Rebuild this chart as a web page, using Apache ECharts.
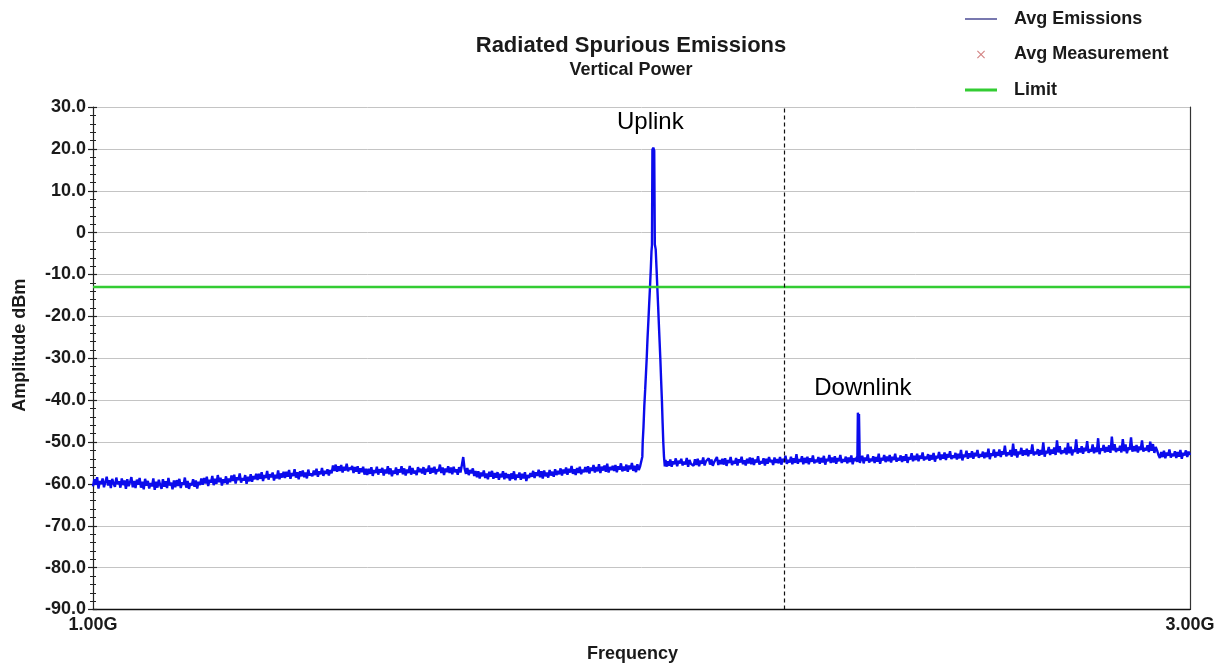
<!DOCTYPE html>
<html>
<head>
<meta charset="utf-8">
<title>Radiated Spurious Emissions</title>
<script src="https://cdn.jsdelivr.net/npm/echarts@6/dist/echarts.min.js"></script>
<style>
  html, body { margin: 0; padding: 0; background: #ffffff; }
  #chart { width: 1219px; height: 667px; }
</style>
</head>
<body>
<div id="chart"></div>
<script>
// Sweep settings (GHz) for the two noise-floor segments of the trace
const sweepStartA = 1.000;
const sweepStartB = 2.050;
const sweepStep = 0.0025;

// Average emission level (dBm), 1.0000 – 1.9975 GHz
const noiseA = [
  -60.6,-58.9,-60.2,-58.4,-61.1,-59.3,-60.0,-58.7,-60.8,-59.6,-58.3,-60.4,-59.1,-61.0,-58.8,-59.9,-60.7,-58.5,-60.1,-59.4,
  -60.9,-58.7,-60.3,-59.2,-61.2,-58.9,-60.5,-59.6,-58.4,-60.8,-59.3,-61.0,-59.0,-60.2,-58.6,-60.9,-59.5,-61.3,-58.8,-60.4,
  -59.3,-61.1,-59.8,-60.6,-58.7,-61.4,-59.5,-60.9,-59.0,-60.3,-61.2,-58.9,-60.7,-59.4,-61.0,-58.6,-60.4,-59.7,-61.3,-59.2,
  -60.8,-59.1,-60.5,-58.8,-61.0,-59.6,-60.2,-58.5,-60.9,-59.3,-61.2,-59.8,-60.4,-58.9,-60.7,-59.2,-61.1,-59.5,-60.3,-58.7,
  -60.2,-58.6,-59.9,-58.3,-60.5,-59.0,-59.7,-58.1,-60.3,-58.8,-60.0,-57.9,-59.6,-58.5,-60.4,-58.9,-59.8,-58.2,-60.1,-58.7,
  -59.6,-58.0,-59.3,-57.8,-59.9,-58.4,-59.1,-57.5,-59.7,-58.6,-59.2,-57.9,-60.0,-58.3,-59.4,-57.7,-59.5,-58.1,-58.9,-57.6,
  -59.1,-57.6,-58.8,-57.2,-59.3,-57.9,-58.6,-56.9,-59.0,-57.7,-58.4,-57.3,-59.2,-57.8,-58.7,-56.8,-58.9,-57.5,-58.5,-57.1,
  -58.6,-57.1,-58.3,-56.7,-58.8,-57.4,-58.1,-56.5,-58.5,-57.2,-58.9,-57.0,-58.2,-56.8,-58.4,-57.3,-58.7,-56.6,-58.0,-57.5,
  -58.2,-56.8,-57.9,-56.4,-58.3,-57.0,-57.7,-56.2,-58.1,-56.9,-57.6,-56.5,-58.0,-56.7,-57.5,-55.6,-56.9,-55.4,-57.1,-55.8,
  -56.9,-55.5,-57.3,-55.9,-56.8,-55.2,-57.0,-56.1,-56.6,-55.7,-57.4,-56.0,-57.1,-55.8,-57.6,-56.3,-57.2,-55.9,-57.8,-56.4,
  -57.9,-56.4,-57.6,-56.0,-58.1,-56.7,-57.4,-55.9,-57.8,-56.5,-57.3,-56.2,-58.0,-56.6,-57.5,-55.8,-57.7,-56.3,-58.2,-56.8,
  -57.6,-56.1,-57.9,-56.5,-57.3,-55.8,-57.7,-56.3,-58.0,-56.6,-57.4,-55.7,-57.8,-56.2,-57.5,-56.8,-57.9,-56.0,-57.2,-56.4,
  -57.5,-56.0,-57.8,-56.4,-57.1,-55.6,-57.6,-56.2,-57.3,-55.9,-57.7,-56.5,-57.0,-55.4,-57.4,-56.1,-57.9,-56.3,-57.2,-55.8,
  -57.4,-56.1,-57.7,-55.9,-57.2,-56.5,-57.8,-56.0,-57.3,-55.5,-53.6,-56.4,-57.6,-56.2,-57.9,-56.7,-57.5,-56.3,-58.1,-56.9,
  -58.4,-57.0,-58.7,-57.3,-58.2,-56.8,-58.6,-57.5,-58.9,-57.1,-58.3,-56.9,-58.8,-57.4,-58.5,-57.2,-59.0,-57.6,-58.4,-57.0,
  -58.9,-57.4,-58.6,-57.7,-59.2,-57.5,-58.8,-57.0,-59.1,-57.8,-58.5,-57.3,-59.0,-57.6,-58.7,-57.2,-59.3,-57.9,-58.6,-57.4,
  -58.3,-56.9,-58.6,-57.2,-58.1,-56.6,-58.4,-57.0,-58.7,-56.8,-58.2,-57.3,-58.5,-56.7,-58.0,-57.1,-58.3,-56.5,-57.9,-56.9,
  -57.7,-56.3,-58.0,-56.6,-57.5,-56.1,-57.8,-56.4,-57.3,-55.7,-57.6,-56.5,-57.9,-56.2,-57.4,-55.9,-57.7,-56.6,-57.2,-56.0,
  -57.2,-55.8,-57.5,-56.1,-56.9,-55.5,-57.3,-56.0,-57.0,-55.3,-57.4,-55.9,-56.8,-55.6,-57.1,-55.2,-57.3,-56.0,-56.7,-55.7,
  -56.9,-55.5,-57.2,-55.8,-56.6,-55.1,-57.0,-55.9,-56.8,-55.4,-57.1,-55.6,-56.5,-55.0,-56.9,-55.7,-57.2,-55.3,-56.7,-55.8
];

// Average emission level (dBm), 2.0500 – 3.0000 GHz
const noiseB = [
  -55.7,-54.2,-55.9,-54.6,-55.3,-53.9,-55.8,-54.5,-55.1,-54.0,-55.6,-54.7,-55.4,-53.8,-55.9,-54.3,-55.2,-54.8,-55.7,-54.1,
  -55.5,-54.0,-55.8,-54.4,-55.2,-53.7,-55.6,-54.6,-55.0,-53.9,-55.4,-54.2,-55.7,-54.8,-55.1,-53.6,-55.5,-54.3,-55.3,-54.0,
  -55.4,-53.9,-55.7,-54.3,-55.0,-53.6,-55.5,-54.5,-55.2,-53.8,-55.6,-54.1,-54.9,-53.5,-55.3,-54.4,-55.6,-54.0,-55.1,-53.7,
  -55.3,-53.8,-55.5,-54.2,-54.9,-53.4,-55.4,-54.6,-55.1,-53.9,-55.6,-54.0,-55.2,-53.6,-54.8,-54.3,-55.5,-53.7,-55.0,-54.1,
  -55.1,-53.6,-55.4,-54.0,-54.8,-53.3,-55.2,-54.3,-54.9,-53.5,-55.3,-53.9,-55.0,-52.9,-55.2,-54.1,-54.7,-53.4,-55.3,-53.8,
  -55.0,-53.5,-55.3,-53.9,-54.7,-53.2,-55.1,-54.2,-54.8,-53.6,-55.2,-53.8,-54.9,-53.3,-55.4,-54.0,-54.6,-53.1,-55.0,-53.7,
  -54.9,-53.4,-55.2,-53.8,-54.6,-53.1,-55.0,-54.1,-54.7,-53.5,-55.1,-53.7,-54.8,-53.2,-55.3,-53.9,-54.5,-53.6,-54.9,-53.8,
  -54.8,-53.3,-55.1,-53.7,-54.5,-53.0,-54.9,-54.0,-54.6,-53.4,-55.0,-53.6,-54.7,-52.8,-55.2,-53.8,-54.4,-53.1,-54.8,-53.5,
  -54.6,-53.1,-54.9,-53.5,-54.3,-52.8,-54.7,-53.8,-54.4,-53.2,-54.8,-53.4,-54.5,-52.9,-55.0,-53.6,-54.2,-52.7,-54.6,-53.3,
  -54.3,-52.8,-54.6,-53.2,-54.0,-52.5,-54.4,-53.5,-54.1,-52.9,-54.5,-53.1,-54.2,-52.6,-54.7,-53.3,-53.9,-52.4,-54.3,-53.0,
  -54.0,-52.5,-54.3,-52.9,-53.7,-52.2,-54.1,-53.2,-53.8,-52.6,-54.2,-52.8,-53.9,-51.9,-54.4,-53.0,-53.6,-52.1,-54.0,-52.7,
  -53.7,-52.2,-54.0,-52.6,-53.4,-51.9,-53.8,-52.9,-53.5,-52.3,-53.9,-52.5,-53.6,-51.6,-54.1,-52.7,-53.3,-51.8,-53.7,-52.4,
  -53.3,-51.8,-53.6,-52.2,-53.0,-50.9,-53.4,-52.5,-53.1,-51.9,-53.5,-50.4,-53.2,-51.7,-53.7,-52.3,-52.9,-51.4,-53.3,-52.0,
  -53.1,-51.6,-53.4,-52.0,-52.8,-50.6,-53.2,-52.3,-52.9,-51.7,-53.3,-51.9,-53.0,-50.1,-53.5,-52.1,-52.7,-51.2,-53.1,-51.8,
  -52.8,-51.3,-53.1,-49.6,-52.5,-51.0,-52.9,-52.0,-52.6,-51.4,-53.0,-50.2,-52.7,-51.1,-53.2,-51.8,-52.4,-49.4,-52.8,-51.5,
  -52.5,-51.0,-52.8,-51.4,-52.2,-49.8,-52.6,-51.7,-52.3,-50.6,-52.7,-51.3,-52.4,-49.1,-52.9,-51.5,-52.1,-50.7,-52.5,-51.2,
  -52.3,-50.8,-52.6,-48.7,-52.0,-50.5,-52.4,-51.5,-52.1,-50.9,-52.5,-49.3,-52.2,-50.6,-52.7,-51.3,-51.9,-48.9,-52.3,-51.0,
  -52.2,-50.7,-52.5,-51.1,-51.9,-49.6,-52.3,-51.4,-52.0,-50.8,-52.4,-49.9,-52.1,-50.5,-52.6,-51.2,-52.0,-53.1,-53.8,-52.4,
  -53.6,-52.1,-53.9,-52.5,-53.3,-51.8,-53.7,-52.8,-53.4,-52.2,-53.8,-52.4,-53.5,-51.9,-54.0,-52.6,-53.2,-52.0,-53.6,-52.3,
  -53.1
];

// Uplink carrier (GHz / dBm)
const uplinkFreq = [2.0005, 2.0015, 2.0022, 2.0036, 2.0051, 2.0067, 2.0082, 2.0095, 2.0109, 2.0124,
  2.0140, 2.0155, 2.0170, 2.0182, 2.0191, 2.0199, 2.0215, 2.0232, 2.0243, 2.0259, 2.0274, 2.0288, 2.0303,
  2.0317, 2.0330, 2.0343, 2.0357, 2.0372, 2.0385, 2.0397, 2.0410, 2.0425, 2.0438, 2.0455, 2.0475];
const uplinkAmp = [-56.0, -53.5, -50.0, -46.5, -41.5, -37.5, -33.5, -30.0, -25.5, -21.5,
  -17.0, -13.0, -8.5, -4.5, -3.0, 19.8, 20.3, 19.6, -2.8, -4.0, -8.5, -13.0, -17.5,
  -22.0, -26.0, -30.0, -35.0, -40.0, -45.5, -50.0, -53.5, -55.8, -54.3, -55.9, -54.6];

// Downlink carrier (GHz / dBm)
const downlinkFreq = [2.3935, 2.3945, 2.3955, 2.3965, 2.3980];
const downlinkAmp = [-54.8, -43.0, -44.5, -43.3, -55.0];

// Average measurement points (none recorded)
const measurementFreq = [];
const measurementAmp = [];

// Limit line
const limitFreq = [1.0, 3.0];
const limitAmp = [-13, -13];

// Vertical marker (GHz)
const markerFreq = [2.262];

// Axes
const freqTicks = [1.0, 3.0];
const ampMin = -90, ampMax = 30, ampStep = 10;

const FONT = '"Liberation Sans", Arial, Helvetica, sans-serif';
const TEXT = '#1a1a1a';
const TRACE = '#0b0bec';

function sweep(start, values) {
  return values.map((v, i) => [+(start + i * sweepStep).toFixed(4), v]);
}

// Noise floor with the carrier detail spliced in
const carriers = [[uplinkFreq, uplinkAmp], [downlinkFreq, downlinkAmp]];
let trace = sweep(sweepStartA, noiseA).concat(sweep(sweepStartB, noiseB));
trace = trace.filter(([f]) => !carriers.some(([fs]) => f >= fs[0] && f <= fs[fs.length - 1]));
carriers.forEach(([fs, as]) => fs.forEach((f, i) => trace.push([f, as[i]])));
trace.sort((a, b) => a[0] - b[0]);

function peakOf(fs, as) {
  let k = 0;
  as.forEach((v, i) => { if (v > as[k]) k = i; });
  return [fs[k], as[k]];
}

// Legend / point glyphs
const xPath = 'path://M0,0M14,14M3,3.8L3.8,3L7,6.2L10.2,3L11,3.8L7.8,7L11,10.2L10.2,11L7,7.8L3.8,11L3,10.2L6.2,7Z';
const thinBar = 'path://M0,0H32V1.2H0Z';
const thickBar = 'path://M0,0H32V3H0Z';

const chart = echarts.init(document.getElementById('chart'), null, { renderer: 'canvas' });

chart.setOption({
  animation: false,
  backgroundColor: '#ffffff',
  title: {
    text: 'Radiated Spurious Emissions',
    subtext: 'Vertical Power',
    left: 626,
    textAlign: 'center',
    top: 30,
    itemGap: 4,
    textStyle: { fontFamily: FONT, fontWeight: 'bold', fontSize: 22, color: TEXT },
    subtextStyle: { fontFamily: FONT, fontWeight: 'bold', fontSize: 18, color: TEXT }
  },
  legend: {
    orient: 'vertical',
    left: 960,
    top: 5,
    itemWidth: 32,
    itemHeight: 14,
    itemGap: 17.5,
    selectedMode: false,
    textStyle: { fontFamily: FONT, fontWeight: 'bold', fontSize: 18, color: TEXT, padding: [0, 0, 0, 12] },
    data: [
      { name: 'Avg Emissions', icon: thinBar, itemStyle: { color: '#1f1f7a' }, lineStyle: { color: '#1f1f7a', width: 1.2 } },
      { name: 'Avg Measurement', icon: xPath, itemStyle: { color: '#c86464' } },
      { name: 'Limit', icon: thickBar, itemStyle: { color: '#33cc33' }, lineStyle: { color: '#33cc33', width: 3 } }
    ]
  },
  grid: { left: 93, right: 29, top: 107, bottom: 57.5, containLabel: false, outerBoundsMode: 'none' },
  xAxis: {
    type: 'value',
    min: freqTicks[0],
    max: freqTicks[freqTicks.length - 1],
    interval: freqTicks[1] - freqTicks[0],
    axisLine: { show: true, onZero: false, lineStyle: { color: '#111111', width: 1.3 } },
    axisTick: { show: false },
    splitLine: { show: false },
    axisLabel: {
      formatter: v => v.toFixed(2) + 'G',
      fontFamily: FONT, fontWeight: 'bold', fontSize: 18, color: TEXT, margin: 7,
      showMinLabel: true, showMaxLabel: true
    },
    name: 'Frequency',
    nameLocation: 'middle',
    nameGap: 36,
    nameTextStyle: { fontFamily: FONT, fontWeight: 'bold', fontSize: 18, color: TEXT, padding: [0, 18, 0, 0] }
  },
  yAxis: [
    {
      type: 'value',
      position: 'left',
      min: ampMin, max: ampMax, interval: ampStep,
      axisLine: { show: true, onZero: false, lineStyle: { color: '#222222', width: 1.2 } },
      axisTick: { show: true, inside: false, length: 5, lineStyle: { color: '#222222', width: 1.2 } },
      minorTick: { show: true, splitNumber: 5, length: 3, lineStyle: { color: '#222222', width: 1 } },
      splitLine: { show: true, lineStyle: { color: '#c4c4c4', width: 1 } },
      axisLabel: {
        formatter: v => (v === 0 ? '0' : v.toFixed(1)),
        fontFamily: FONT, fontWeight: 'bold', fontSize: 18, color: TEXT, margin: 7
      },
      name: 'Amplitude dBm',
      nameLocation: 'middle',
      nameRotate: 90,
      nameGap: 64,
      nameTextStyle: { fontFamily: FONT, fontWeight: 'bold', fontSize: 18, color: TEXT, padding: [0, 0, 0, 26] }
    },
    {
      type: 'value',
      position: 'left',
      min: ampMin, max: ampMax, interval: ampStep,
      axisLine: { show: false, onZero: false },
      axisTick: { show: true, inside: true, length: 4, lineStyle: { color: '#222222', width: 1.2 } },
      minorTick: { show: true, splitNumber: 5, length: 3, lineStyle: { color: '#222222', width: 1 } },
      splitLine: { show: false },
      axisLabel: { show: false }
    },
    {
      type: 'value',
      position: 'right',
      min: ampMin, max: ampMax, interval: ampStep,
      axisLine: { show: true, onZero: false, lineStyle: { color: '#333333', width: 1.2 } },
      axisTick: { show: false },
      splitLine: { show: false },
      axisLabel: { show: false }
    }
  ],
  series: [
    {
      name: 'Avg Emissions',
      type: 'line',
      data: trace,
      showSymbol: false,
      symbol: 'none',
      sampling: false,
      lineStyle: { color: TRACE, width: 2.4 },
      itemStyle: { color: TRACE },
      z: 3,
      markLine: {
        silent: true,
        symbol: 'none',
        label: { show: false },
        lineStyle: { color: '#111111', type: [4, 3], width: 1.2 },
        data: markerFreq.map(f => ({ xAxis: f }))
      },
      markPoint: {
        silent: true,
        symbol: 'circle',
        symbolSize: 0,
        itemStyle: { color: 'transparent' },
        label: {
          show: true,
          position: 'inside',
          fontFamily: FONT,
          fontSize: 24,
          color: '#000000'
        },
        data: [
          { name: 'Uplink', coord: peakOf(uplinkFreq, uplinkAmp), label: { formatter: 'Uplink', offset: [-3, -25] } },
          { name: 'Downlink', coord: peakOf(downlinkFreq, downlinkAmp), label: { formatter: 'Downlink', offset: [5, -24] } }
        ]
      }
    },
    {
      name: 'Avg Measurement',
      type: 'scatter',
      symbol: xPath,
      symbolSize: 9,
      itemStyle: { color: '#c86464' },
      data: measurementFreq.map((f, i) => [f, measurementAmp[i]])
    },
    {
      name: 'Limit',
      type: 'line',
      data: limitFreq.map((f, i) => [f, limitAmp[i]]),
      showSymbol: false,
      symbol: 'none',
      lineStyle: { color: '#33cc33', width: 2.5 },
      itemStyle: { color: '#33cc33' },
      z: 4
    }
  ]
});
</script>
</body>
</html>
